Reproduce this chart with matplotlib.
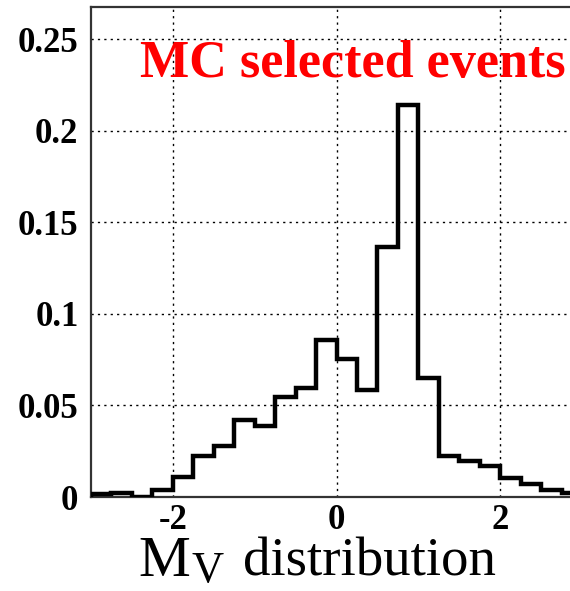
import numpy as np
import matplotlib
matplotlib.use("Agg")
import matplotlib.pyplot as plt

plt.rcParams['font.family'] = ['Liberation Serif', 'DejaVu Serif']

# ---- data: M_V distribution, MC selected events (bin width 0.25) ----
bin_edges = np.arange(-3.0, 3.0001, 0.25)
bin_values = [0.0016, 0.0024, 0.0000, 0.0038, 0.0107, 0.0226,
              0.0280, 0.0420, 0.0390, 0.0548, 0.0594, 0.0856,
              0.0752, 0.0585, 0.1368, 0.2142, 0.0648, 0.0224,
              0.0197, 0.0169, 0.0102, 0.0071, 0.0038, 0.0024]
x_ticks = [-2, 0, 2]
y_ticks = [0, 0.05, 0.1, 0.15, 0.2, 0.25]
y_tick_labels = ['0', '0.05', '0.1', '0.15', '0.2', '0.25']

W, H = 570, 591
fig = plt.figure(figsize=(W / 100, H / 100), dpi=100)
# frame runs past the right edge of the picture, as in the reference crop
ax = fig.add_axes([91 / W, 94 / H, (582 - 91) / W, 490 / H])

ax.stairs(bin_values, bin_edges, baseline=0, color='black', lw=3.2, zorder=3)

ax.set_xlim(-3.0, 3.0)
ax.set_ylim(0, 1.25 * max(bin_values))
ax.set_xticks(x_ticks)
ax.set_xticklabels([str(t) for t in x_ticks], fontweight='bold')
ax.set_yticks(y_ticks)
ax.set_yticklabels(y_tick_labels, fontweight='bold')
ax.tick_params(length=0, labelsize=25)
ax.tick_params(axis='y', pad=9)
ax.tick_params(axis='x', pad=5)

ax.grid(True, color='black', lw=1.0, linestyle=(0, (1.6, 3.0)))
ax.set_axisbelow(True)
for s in ax.spines.values():
    s.set_linewidth(1.6)
    s.set_color('#333333')

# texts placed in figure pixels (the frame is cut at the right edge)
fig.text(140 / W, 1 - 77 / H, 'MC selected events', ha='left', va='baseline',
         color='red', fontsize=37.5, fontweight='bold', zorder=5)

# x title "M_V distribution", pieces so the subscript sits low
fig.text(138 / W, 1 - 576 / H, 'M', ha='left', va='baseline', fontsize=42)
fig.text(192 / W, 1 - 582 / H, 'V', ha='left', va='baseline', fontsize=32)
fig.text(243 / W, 1 - 576 / H, 'distribution', ha='left', va='baseline', fontsize=39.5)

fig.savefig('out.png', dpi=100)
